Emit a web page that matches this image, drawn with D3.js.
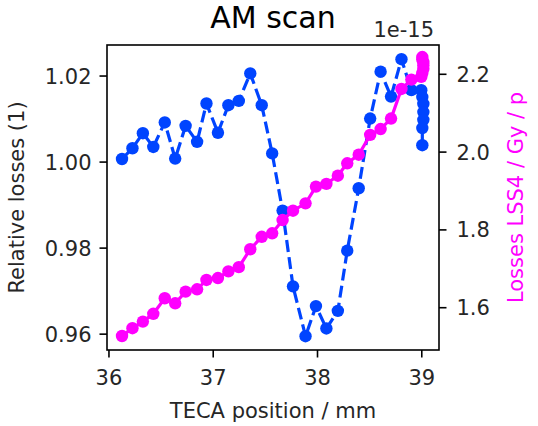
<!DOCTYPE html>
<html>
<head>
<meta charset="utf-8">
<script src="https://cdn.jsdelivr.net/npm/d3@7"></script>
<style>
  html, body { margin: 0; padding: 0; background: #fff; }
  svg text { font-family: 'DejaVu Sans', sans-serif; }
</style>
</head>
<body>
<div id="chart"></div>
<script>
// TECA scan positions (mm)
const positions = [
  36.13, 36.23, 36.33, 36.43, 36.54, 36.64, 36.74, 36.85, 36.94, 37.05,
  37.15, 37.25, 37.36, 37.47, 37.57, 37.67, 37.77, 37.89, 37.99, 38.09,
  38.20, 38.29, 38.40, 38.51, 38.61, 38.71, 38.81, 38.905,
  39.00, 39.01, 39.02, 39.02, 39.02, 39.01, 39.01
];
// relative losses (left axis)
const relLosses = [
  1.0006, 1.0031, 1.0066, 1.0034, 1.0091, 1.0007, 1.0083, 1.0046, 1.0135, 1.0067,
  1.0131, 1.0141, 1.0205, 1.0131, 1.0019, 0.9886, 0.9710, 0.9594, 0.9664, 0.9612,
  0.9653, 0.9793, 0.9938, 1.0100, 1.0209, 1.0151, 1.0238, 1.0166,
  1.0166, 1.0150, 1.0134, 1.0115, 1.0097, 1.0078, 1.0038
];
// LSS4 losses, units of 1e-15 Gy/p (right axis)
const lss4Losses = [
  1.526, 1.546, 1.563, 1.583, 1.623, 1.610, 1.640, 1.646, 1.670, 1.675,
  1.692, 1.703, 1.749, 1.781, 1.790, 1.824, 1.848, 1.867, 1.910, 1.917,
  1.938, 1.970, 1.992, 2.043, 2.058, 2.085, 2.161, 2.185,
  2.192, 2.202, 2.213, 2.222, 2.230, 2.237, 2.243
];
const xTicks = [36, 37, 38, 39];
const yLeftTicks = [0.96, 0.98, 1.00, 1.02];
const yRightTicks = [1.6, 1.8, 2.0, 2.2];

const W = 538, H = 426;
const M = { left: 107, right: 439, top: 45, bottom: 350 };
const BLUE = '#0044ff', MAG = '#ff00ff';
const FS = 21;

const svg = d3.select('#chart').append('svg')
  .attr('width', W).attr('height', H)
  .style('display', 'block');
svg.append('rect').attr('width', W).attr('height', H).attr('fill', '#fff');

const x  = d3.scaleLinear().domain([35.986, 39.17]).range([M.left, M.right]);
const yL = d3.scaleLinear().domain([0.9562, 1.0271]).range([M.bottom, M.top]);
const yR = d3.scaleLinear().domain([1.490, 2.274]).range([M.bottom, M.top]);

svg.append('clipPath').attr('id', 'clip')
  .append('rect').attr('x', M.left).attr('y', M.top)
  .attr('width', M.right - M.left).attr('height', M.bottom - M.top);

const blue = positions.map((p, i) => ({ x: p, y: relLosses[i] }));
const mag  = positions.map((p, i) => ({ x: p, y: lss4Losses[i] }));

// blue series: dashed line + markers
const gB = svg.append('g').attr('clip-path', 'url(#clip)');
gB.append('path').datum(blue)
  .attr('fill', 'none').attr('stroke', BLUE).attr('stroke-width', 3.2)
  .attr('stroke-dasharray', '12,5.2')
  .attr('d', d3.line().x(d => x(d.x)).y(d => yL(d.y)));
gB.selectAll('circle').data(blue).join('circle')
  .attr('cx', d => x(d.x)).attr('cy', d => yL(d.y)).attr('r', 6.2)
  .attr('fill', BLUE);

// magenta series (twin axis, drawn on top)
const gM = svg.append('g').attr('clip-path', 'url(#clip)');
gM.append('path').datum(mag)
  .attr('fill', 'none').attr('stroke', MAG).attr('stroke-width', 3.2)
  .attr('d', d3.line().x(d => x(d.x)).y(d => yR(d.y)));
gM.selectAll('circle').data(mag).join('circle')
  .attr('cx', d => x(d.x)).attr('cy', d => yR(d.y)).attr('r', 6.2)
  .attr('fill', MAG);

// frame
svg.append('rect')
  .attr('x', M.left).attr('y', M.top)
  .attr('width', M.right - M.left).attr('height', M.bottom - M.top)
  .attr('fill', 'none').attr('stroke', '#000').attr('stroke-width', 1.6);

// axes
const axX = svg.append('g').attr('transform', `translate(0,${M.bottom})`)
  .call(d3.axisBottom(x).tickValues(xTicks).tickFormat(d3.format('d')).tickSize(7.5).tickPadding(8));
const axL = svg.append('g').attr('transform', `translate(${M.left},0)`)
  .call(d3.axisLeft(yL).tickValues(yLeftTicks).tickFormat(d3.format('.2f')).tickSize(7.5).tickPadding(8));
const axR = svg.append('g').attr('transform', `translate(${M.right},0)`)
  .call(d3.axisRight(yR).tickValues(yRightTicks).tickFormat(d3.format('.1f')).tickSize(7.5).tickPadding(10));

[axX, axL, axR].forEach(a => {
  a.select('.domain').remove();
  a.selectAll('.tick line').attr('stroke', '#000').attr('stroke-width', 1.6);
  a.selectAll('.tick text')
    .attr('fill', '#262626')
    .style('font-family', 'DejaVu Sans, sans-serif')
    .style('font-size', FS + 'px');
});
axX.selectAll('.tick text').attr('dy', null).attr('y', 35);
axL.selectAll('.tick text').attr('dy', '0.36em');
axR.selectAll('.tick text').attr('dy', '0.36em');

// title, labels
svg.append('text')
  .attr('x', (M.left + M.right) / 2).attr('y', 28)
  .attr('text-anchor', 'middle').attr('fill', '#000')
  .style('font-size', '30px')
  .text('AM scan');

svg.append('text')
  .attr('x', 434).attr('y', 37)
  .attr('text-anchor', 'end').attr('fill', '#262626')
  .style('font-size', FS + 'px')
  .text('1e-15');

svg.append('text')
  .attr('x', (M.left + M.right) / 2).attr('y', 418)
  .attr('text-anchor', 'middle').attr('fill', '#262626')
  .style('font-size', FS + 'px')
  .text('TECA position / mm');

svg.append('text')
  .attr('transform', `translate(24,${(M.top + M.bottom) / 2}) rotate(-90)`)
  .attr('text-anchor', 'middle').attr('fill', '#262626')
  .style('font-size', FS + 'px')
  .text('Relative losses (1)');

svg.append('text')
  .attr('transform', `translate(523,${(M.top + M.bottom) / 2}) rotate(-90)`)
  .attr('text-anchor', 'middle').attr('fill', MAG)
  .style('font-size', FS + 'px')
  .text('Losses LSS4 / Gy / p');
</script>
</body>
</html>
